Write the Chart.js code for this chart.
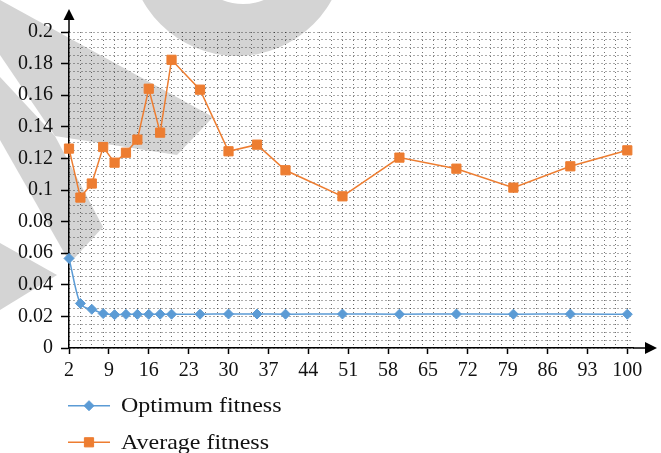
<!DOCTYPE html>
<html>
<head>
<meta charset="utf-8">
<title>Fitness by generation</title>
<script src="https://cdn.jsdelivr.net/npm/chart.js@4.4.1/dist/chart.umd.min.js"></script>
<style>
  html, body { margin: 0; padding: 0; background: #fff; }
  #wrap { position: relative; width: 661px; height: 453px; overflow: hidden; }
  #emblem { position: absolute; left: 0; top: 0; z-index: 0; }
  #chart { position: absolute; left: 0; top: 0; z-index: 1; display: block; }
</style>
</head>
<body>
<div id="wrap">
  <!-- faint publisher emblem printed behind the plot -->
  <svg id="emblem" width="661" height="453" viewBox="0 0 661 453">
    <g fill="#d4d4d4">
      <polygon points="0,0 213,117 177,155 55,136 0,55"/>
      <polygon points="0,77 55,136 103,227 70,263 0,140"/>
      <polygon points="0,243 57,275 0,310"/>
      <path fill-rule="evenodd" d="M 129,-52 A 108,108 0 1 0 345,-52 A 108,108 0 1 0 129,-52 Z M 187,-52 A 56,56 0 1 0 299,-52 A 56,56 0 1 0 187,-52 Z"/>
    </g>
  </svg>
  <canvas id="chart" width="661" height="453"></canvas>
</div>
<script>
// Generation numbers at which fitness was recorded
const generations = [2, 4, 6, 8, 10, 12, 14, 16, 18, 20, 25, 30, 35, 40, 50, 60, 70, 80, 90, 100];
// Best individual's fitness per generation
const optimumFitness = [0.0567, 0.0282, 0.0245, 0.0218, 0.0211, 0.0213, 0.0213, 0.0213, 0.0214, 0.0214,
                        0.0214, 0.0215, 0.0215, 0.0214, 0.0215, 0.0214, 0.0215, 0.0214, 0.0215, 0.0214];
// Population mean fitness per generation
const averageFitness = [0.1262, 0.0952, 0.1041, 0.1272, 0.1173, 0.1236, 0.1319, 0.1641, 0.1363, 0.1824,
                        0.1635, 0.1245, 0.1287, 0.1125, 0.0960, 0.1205, 0.1135, 0.1015, 0.1150, 0.1251];
// Labelled ticks
const xTickLabels = [2, 9, 16, 23, 30, 37, 44, 51, 58, 65, 72, 79, 86, 93, 100];
const yTickLabels = ['0', '0.02', '0.04', '0.06', '0.08', '0.1', '0.12', '0.14', '0.16', '0.18', '0.2'];
const seriesNames = ['Optimum fitness', 'Average fitness'];

const BLUE = '#5B9BD5';
const ORANGE = '#ED7D31';
const FONT = '"Liberation Serif", "DejaVu Serif", serif';

const points = (ys) => generations.map((g, i) => ({ x: g, y: ys[i] }));

function yLabelFor(v) {
  const k = Math.round(v / 0.005);
  return (k % 4 === 0) ? yTickLabels[k / 4] : '';
}

// Axis arrows and the stacked legend below the plot
const decorations = {
  id: 'decorations',
  afterDraw(chart) {
    const { ctx, chartArea: a } = chart;
    ctx.save();
    ctx.strokeStyle = '#000';
    ctx.fillStyle = '#000';
    ctx.lineWidth = 1.5;
    // y-axis continues above the plot and ends in an arrowhead
    ctx.beginPath();
    ctx.moveTo(a.left, a.top);
    ctx.lineTo(a.left, a.top - 14);
    ctx.stroke();
    ctx.beginPath();
    ctx.moveTo(a.left, a.top - 23);
    ctx.lineTo(a.left + 5.5, a.top - 12);
    ctx.lineTo(a.left - 5.5, a.top - 12);
    ctx.closePath();
    ctx.fill();
    // x-axis continues to the right and ends in an arrowhead
    ctx.beginPath();
    ctx.moveTo(a.right, a.bottom);
    ctx.lineTo(a.right + 14, a.bottom);
    ctx.stroke();
    ctx.beginPath();
    ctx.moveTo(a.right + 24, a.bottom);
    ctx.lineTo(a.right + 12, a.bottom - 6);
    ctx.lineTo(a.right + 12, a.bottom + 6);
    ctx.closePath();
    ctx.fill();

    // legend entries, one per row
    const rows = [405.7, 442.3];
    chart.data.datasets.forEach((ds, i) => {
      const y = rows[i];
      ctx.strokeStyle = ds.borderColor;
      ctx.lineWidth = 1.5;
      ctx.beginPath();
      ctx.moveTo(68, y);
      ctx.lineTo(110, y);
      ctx.stroke();
      ctx.fillStyle = ds.backgroundColor;
      ctx.strokeStyle = ds.borderColor;
      ctx.lineWidth = ds.pointBorderWidth;
      Chart.helpers.drawPoint(ctx, { pointStyle: ds.pointStyle, radius: ds.pointRadius, borderWidth: ds.pointBorderWidth, rotation: 0 }, 89, y);
      ctx.save();
      ctx.translate(121, y + 1);
      ctx.scale(1.09, 1);
      ctx.fillStyle = '#111';
      ctx.font = '22px ' + FONT;
      ctx.textAlign = 'left';
      ctx.textBaseline = 'middle';
      ctx.fillText(ds.label, 0, 0);
      ctx.restore();
    });
    ctx.restore();
  }
};

new Chart(document.getElementById('chart'), {
  type: 'line',
  data: {
    datasets: [
      {
        label: seriesNames[0],
        data: points(optimumFitness),
        borderColor: BLUE,
        backgroundColor: BLUE,
        borderWidth: 1.5,
        pointStyle: 'rectRot',
        pointRadius: 5,
        pointHoverRadius: 5,
        pointBorderWidth: 1,
        cubicInterpolationMode: 'monotone',
        clip: false
      },
      {
        label: seriesNames[1],
        data: points(averageFitness),
        borderColor: ORANGE,
        backgroundColor: ORANGE,
        borderWidth: 1.5,
        pointStyle: 'rect',
        pointRadius: 6.5,
        pointHoverRadius: 6.5,
        pointBorderWidth: 1,
        tension: 0,
        clip: false
      }
    ]
  },
  options: {
    responsive: false,
    animation: false,
    events: [],
    layout: { padding: { left: 0, top: 32, right: 28, bottom: 70 } },
    plugins: { legend: { display: false }, tooltip: { enabled: false } },
    scales: {
      x: {
        type: 'linear',
        min: 2,
        max: 101,
        afterFit(scale) { scale.height = 35; },
        ticks: {
          stepSize: 1,
          autoSkip: false,
          maxRotation: 0,
          padding: 5,
          color: '#111',
          font: { family: FONT, size: 20 },
          callback: (v) => (xTickLabels.includes(v) ? String(v) : '')
        },
        grid: {
          // dotted vertical gridlines on every second generation
          color: (c) => (c.tick && Math.round(c.tick.value - 2) % 2 === 0 ? 'rgba(0,0,0,0.55)' : 'rgba(0,0,0,0)'),
          lineWidth: 1,
          tickLength: 6,
          tickWidth: 1.5,
          tickColor: (c) => (c.tick && xTickLabels.includes(c.tick.value) ? '#000' : 'rgba(0,0,0,0)')
        },
        border: { color: '#000', width: 1.5, dash: [1, 3] }
      },
      y: {
        min: 0,
        max: 0.2,
        afterFit(scale) { scale.width = 69; },
        ticks: {
          stepSize: 0.005,
          autoSkip: false,
          padding: 8,
          color: '#111',
          font: { family: FONT, size: 20 },
          callback: (v) => yLabelFor(v)
        },
        grid: {
          color: 'rgba(0,0,0,0.65)',
          lineWidth: 1,
          tickLength: 8,
          tickWidth: 1.5,
          tickColor: (c) => (c.tick && yLabelFor(c.tick.value) !== '' ? '#000' : 'rgba(0,0,0,0)')
        },
        border: { color: '#000', width: 1.5, dash: [1, 3] }
      }
    }
  },
  plugins: [decorations]
});
</script>
</body>
</html>
